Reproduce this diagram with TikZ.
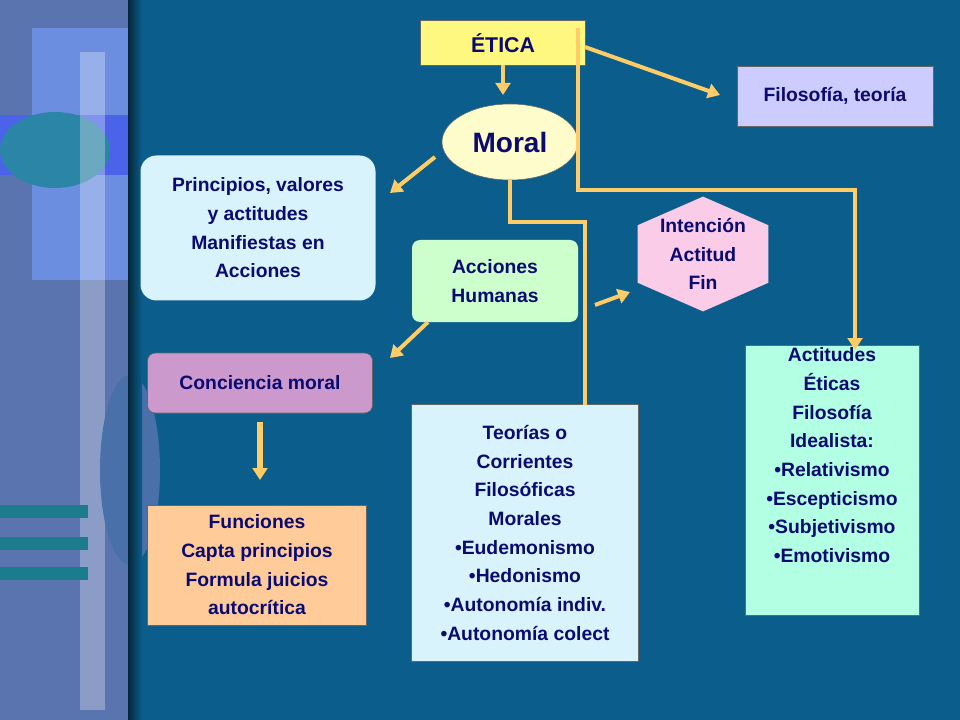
\documentclass[tikz,border=0pt]{standalone}
\usepackage{fontspec}
\setmainfont{Liberation Sans}
\usetikzlibrary{positioning,shapes.geometric,arrows.meta}
\definecolor{bgblue}{HTML}{0B5E8C}
\definecolor{gold}{HTML}{FFCC66}
\definecolor{navy}{HTML}{0A0A70}
\definecolor{strip}{HTML}{5A74B0}
\definecolor{stripl}{HTML}{6C8EE0}
\begin{document}
\begin{tikzpicture}[x=0.75pt,y=-0.75pt,
      box/.style={draw=black!60,fill=#1,align=center,text=navy,font=\bfseries\fontsize{14.5}{21.5}\selectfont,inner sep=2pt},
      link/.style={draw=gold,line width=3pt},
      arr/.style={link,-{Triangle[length=9pt,width=11pt]}}]
    % Background
    \fill[bgblue] (0,0) rectangle (960,720);
    \fill[strip] (0,0) rectangle (128,720);
    \fill[stripl] (32,28) rectangle (128,280);
    \fill[blue!30!stripl] (0,115) rectangle (128,175);
    \fill[teal!60!stripl] (55,150) ellipse (55 and 38);
    \fill[white,opacity=.3] (80,52) rectangle (105,710);
    \foreach \yy in {505,537,567}
      \fill[teal!70!strip] (0,\yy) rectangle (88,\yy+13);
    \fill[strip!80!bgblue] (130,470) ellipse (30 and 95);
    \shade[left color=bgblue!40!black,right color=bgblue] (128,0) rectangle (142,720);

    % Blocks
    \node[box=yellow!50,minimum width=165*0.75pt,minimum height=45*0.75pt,font=\bfseries\fontsize{16}{19}\selectfont] (etica) at (503,43) {ÉTICA};
    \node[box=yellow!20,ellipse,minimum width=136*0.75pt,minimum height=76*0.75pt,font=\bfseries\fontsize{21}{24}\selectfont] (moral) at (510,142) {Moral};
    \node[box=blue!20,minimum width=196*0.75pt,minimum height=60*0.75pt] (filo) at (835,96) {Filosofía, teoría};
    \node[box=cyan!15,draw=none,rounded corners=12pt,minimum width=235*0.75pt,minimum height=145*0.75pt] (princ) at (258,228) {Principios, valores\\y actitudes\\Manifiestas en\\Acciones};
    \node[box=green!20,draw=none,rounded corners=6pt,minimum width=166*0.75pt,minimum height=82*0.75pt] (acc) at (495,281) {Acciones\\Humanas};
    \node[box=magenta!20,draw=none,regular polygon,regular polygon sides=6,shape border rotate=30,minimum size=140*0.75pt,inner sep=0pt,xscale=1.08,yscale=.82] (int) at (703,254) {};
    \node[box=white,fill=none,draw=none] (intt) at (703,254) {Intención\\Actitud\\Fin};
    \node[box=violet!40,rounded corners=6pt,minimum width=225*0.75pt,minimum height=60*0.75pt] (conc) at (260,383) {Conciencia moral};
    \node[box=orange!40,minimum width=219*0.75pt,minimum height=120*0.75pt] (func) at (257,565) {Funciones\\Capta principios\\Formula juicios\\autocrítica};
    \node[box=cyan!15,minimum width=227*0.75pt,minimum height=257*0.75pt] (teor) at (525,533) {Teorías o\\Corrientes\\Filosóficas\\Morales\\•Eudemonismo\\•Hedonismo\\•Autonomía indiv.\\•Autonomía colect};
    \node[box=green!35!cyan!30,minimum width=174*0.75pt,minimum height=265*0.75pt,anchor=north,text depth=50*0.75pt] (acti) at (832,345) {Actitudes\\Éticas\\Filosofía\\Idealista:\\•Relativismo\\•Escepticismo\\•Subjetivismo\\•Emotivismo};

    % Arrows
    \draw[arr] (503,65) -- (503,95);
    \draw[arr] (585,47) -- (720,95);
    \draw[arr] (578,28) -- (578,190) -- (855,190) -- (855,350);
    \draw[arr] (435,157) -- (390,193);
    \draw[link] (moral.south) -- (510,222) -- (585,222) -- (585,405);
    \draw[arr] (428,322) -- (390,358);
    \draw[arr] (595,305) -- (630,292);
    \draw[arr,line width=4pt] (260,422) -- (260,480);
\end{tikzpicture}
\end{document}
